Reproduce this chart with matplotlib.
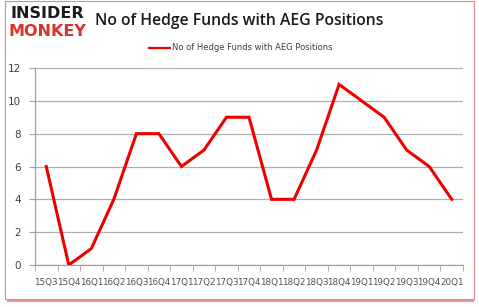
import matplotlib.pyplot as plt
from matplotlib.patches import Rectangle

quarters = ['15Q3', '15Q4', '16Q1', '16Q2', '16Q3', '16Q4', '17Q1', '17Q2', '17Q3', '17Q4',
            '18Q1', '18Q2', '18Q3', '18Q4', '19Q1', '19Q2', '19Q3', '19Q4', '20Q1']
funds = [6, 0, 1, 4, 8, 8, 6, 7, 9, 9, 4, 4, 7, 11, 10, 9, 7, 6, 4]
yticks = [0, 2, 4, 6, 8, 10, 12]

W, H = 479, 307
fig = plt.figure(figsize=(W / 100, H / 100), dpi=100)

# frame with red shadow
fig.patches.append(Rectangle((7 / W, 5 / H), 467 / W, 300 / H, transform=fig.transFigure,
                             facecolor='#d9262b', edgecolor='none', alpha=0.5, zorder=-3))
fig.patches.append(Rectangle((5 / W, 8 / H), 469 / W, 298 / H, transform=fig.transFigure,
                             facecolor='white', edgecolor='#d98a8c', linewidth=0.8, zorder=-2))

ax = fig.add_axes([35 / W, 1 - 265 / H, 428 / W, 197 / H])
ax.patch.set_alpha(0)
x = list(range(len(quarters)))
ax.plot(x, funds, color='#ee0000', linewidth=2.2, solid_joinstyle='miter',
        label='No of Hedge Funds with AEG Positions', zorder=3)

ax.set_xlim(-0.5, len(quarters) - 0.5)
ax.set_ylim(0, 12)
ax.set_yticks(yticks)
ax.set_xticks(x)
ax.set_xticklabels(quarters)
ax.set_xticks([i - 0.5 for i in range(len(quarters) + 1)], minor=True)
ax.tick_params(axis='x', which='major', length=0, pad=9, labelsize=6.3, labelcolor='#505050')
ax.tick_params(axis='x', which='minor', length=4, color='#a0a0a0', direction='out')
ax.tick_params(axis='y', length=4, color='#a0a0a0', labelsize=7.5, labelcolor='#404040', pad=6)
ax.grid(axis='y', color='#b0b0b0', linewidth=0.9)
ax.set_axisbelow(True)
for s in ['top', 'right']:
    ax.spines[s].set_visible(False)
for s in ['left', 'bottom']:
    ax.spines[s].set_color('#a0a0a0')
    ax.spines[s].set_linewidth(0.9)

leg = fig.legend(loc='center', bbox_to_anchor=(241 / W, 1 - 48 / H), frameon=False,
                 fontsize=6, handlelength=2.5, handletextpad=0.3, labelcolor='#404040')
for h in leg.get_lines():
    h.set_linewidth(1.6)

fig.text(95 / W, 1 - 21 / H, 'No of Hedge Funds with AEG Positions', fontsize=11.3,
         fontweight='semibold', va='center', ha='left', color='#1a1a1a', family='Open Sans')
fig.text(10 / W, 1 - 14 / H, 'INSIDER', fontsize=11.5, fontweight='heavy', va='center',
         ha='left', color='#1a1a1a', family='DejaVu Sans')
fig.text(9 / W, 1 - 31 / H, 'MONKEY', fontsize=11.5, fontweight='heavy', va='center',
         ha='left', color='#d9342b', family='DejaVu Sans')

fig.savefig('out.png', dpi=100)
